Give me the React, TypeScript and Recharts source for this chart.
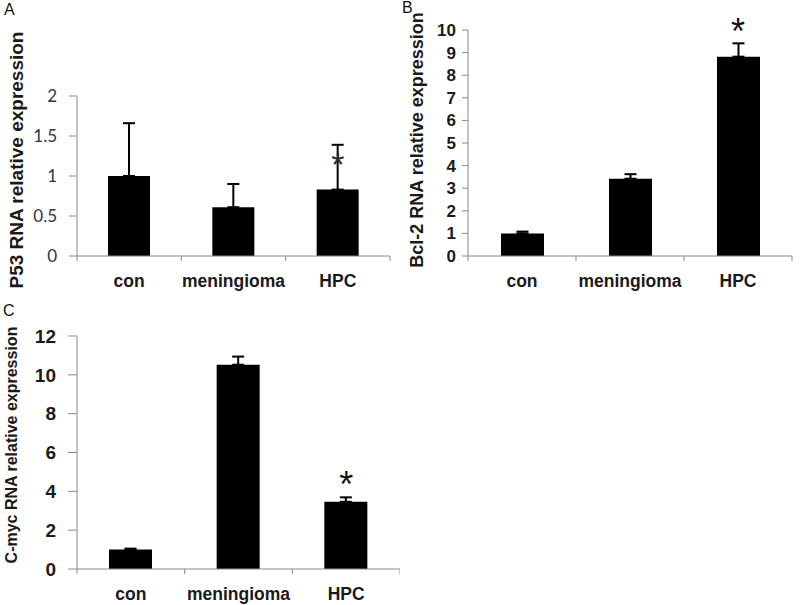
import React from 'react';
import { BarChart, Bar, XAxis, YAxis, ErrorBar, ReferenceDot } from 'recharts';

const categories = ['con', 'meningioma', 'HPC'];

// A: P53
const p53Values = [1.0, 0.61, 0.83];
const p53Errors = [0.66, 0.29, 0.56];
const p53Ticks = [0, 0.5, 1, 1.5, 2];
const p53Star = 1.24;

// B: Bcl-2
const bcl2Values = [1.0, 3.42, 8.82];
const bcl2Errors = [0.08, 0.2, 0.59];
const bcl2Ticks = [0, 1, 2, 3, 4, 5, 6, 7, 8, 9, 10];
const bcl2Star = 10.3;

// C: C-myc
const cmycValues = [1.0, 10.52, 3.46];
const cmycErrors = [0.05, 0.42, 0.23];
const cmycTicks = [0, 2, 4, 6, 8, 10, 12];
const cmycStar = 4.74;

const FONT = '"Liberation Sans", Arial, sans-serif';
const AXIS = '#8a8a8a';

const makeRows = (values: number[], errors: number[]) =>
  categories.map((name, i) => ({ name, value: values[i], err: [0, errors[i]] }));

const CategoryTick = (props: any) => {
  const { x, y, payload, index, half } = props;
  const h = payload && payload.offset ? payload.offset : half;
  return (
    <g>
      <line x1={x - h} y1={y} x2={x - h} y2={y + 5} stroke={AXIS} />
      {index === categories.length - 1 && <line x1={x + h} y1={y} x2={x + h} y2={y + 5} stroke={AXIS} />}
      <text x={x} y={y + 31} textAnchor="middle" fontFamily={FONT} fontWeight="bold" fontSize={17.5} fill="#1a1a1a">
        {payload.value}
      </text>
    </g>
  );
};

const Star = (props: any) => {
  const { cx, cy, size, color } = props;
  return (
    <text x={cx} y={cy + size * 0.57} textAnchor="middle" fontFamily={FONT} fontSize={size} fill={color}>
      *
    </text>
  );
};

const VTitle = ({ cx, cy, size, text }: { cx: number; cy: number; size: number; text: string }) => (
  <div
    style={{
      position: 'absolute',
      left: cx,
      top: cy,
      transform: 'translate(-50%, -50%) rotate(-90deg)',
      whiteSpace: 'nowrap',
      fontFamily: FONT,
      fontWeight: 'bold',
      fontSize: size,
      color: '#1a1a1a',
      lineHeight: 1,
    }}
  >
    {text}
  </div>
);

const PanelLetter = ({ x, y, text }: { x: number; y: number; text: string }) => (
  <div style={{ position: 'absolute', left: x, top: y, fontFamily: FONT, fontSize: 16, color: '#111', lineHeight: 1 }}>
    {text}
  </div>
);

export default function App() {
  const p53Rows = makeRows(p53Values, p53Errors);
  const bcl2Rows = makeRows(bcl2Values, bcl2Errors);
  const cmycRows = makeRows(cmycValues, cmycErrors);

  return (
    <div style={{ position: 'absolute', left: 0, top: 0, width: 800, height: 605, background: '#fff', overflow: 'hidden' }}>
      {/* A */}
      <div style={{ position: 'absolute', left: 0, top: 0 }}>
        <BarChart width={400} height={300} data={p53Rows} margin={{ top: 96, right: 10, left: 0, bottom: 0 }}>
          <XAxis
            dataKey="name"
            height={44}
            stroke={AXIS}
            tickSize={0}
            tickMargin={0}
            tickLine={false}
            tick={<CategoryTick half={52} />}
          />
          <YAxis
            width={77}
            domain={[0, 2]}
            ticks={p53Ticks}
            interval={0}
            stroke={AXIS}
            tickSize={8}
            tickMargin={12}
            tick={{ fontFamily: 'Lato, "Open Sans", sans-serif', fontSize: 17, fill: '#2e3548' }}
          />
          <Bar dataKey="value" fill="#000" barSize={42} isAnimationActive={false}>
            <ErrorBar dataKey="err" width={6} stroke="#000" strokeWidth={2} direction="y" />
          </Bar>
          <ReferenceDot x="HPC" y={p53Star} r={0} ifOverflow="visible" shape={<Star size={34} color="#2a2a2a" />} />
        </BarChart>
      </div>

      {/* B */}
      <div style={{ position: 'absolute', left: 400, top: 0 }}>
        <BarChart width={400} height={300} data={bcl2Rows} margin={{ top: 30, right: 8, left: 0, bottom: 0 }}>
          <XAxis
            dataKey="name"
            height={44}
            stroke={AXIS}
            tickSize={0}
            tickMargin={0}
            tickLine={false}
            tick={<CategoryTick half={54} />}
          />
          <YAxis
            width={68}
            domain={[0, 10]}
            ticks={bcl2Ticks}
            interval={0}
            stroke={AXIS}
            tickSize={6}
            tickMargin={6}
            tick={{ fontFamily: FONT, fontWeight: 'bold', fontSize: 17, fill: '#1a1a1a' }}
          />
          <Bar dataKey="value" fill="#000" barSize={43} isAnimationActive={false}>
            <ErrorBar dataKey="err" width={6} stroke="#000" strokeWidth={2} direction="y" />
          </Bar>
          <ReferenceDot x="HPC" y={bcl2Star} r={0} ifOverflow="visible" shape={<Star size={36} color="#111" />} />
        </BarChart>
      </div>

      {/* C */}
      <div style={{ position: 'absolute', left: 0, top: 300 }}>
        <BarChart width={400} height={305} data={cmycRows} margin={{ top: 36, right: 0, left: 0, bottom: 0 }}>
          <XAxis
            dataKey="name"
            height={36}
            stroke={AXIS}
            tickSize={0}
            tickMargin={0}
            tickLine={false}
            tick={<CategoryTick half={54} />}
          />
          <YAxis
            width={77}
            domain={[0, 12]}
            ticks={cmycTicks}
            interval={0}
            stroke={AXIS}
            tickSize={9}
            tickMargin={12}
            tick={{ fontFamily: FONT, fontWeight: 'bold', fontSize: 19, fill: '#1a1a1a' }}
          />
          <Bar dataKey="value" fill="#000" barSize={43} isAnimationActive={false}>
            <ErrorBar dataKey="err" width={6} stroke="#000" strokeWidth={2} direction="y" />
          </Bar>
          <ReferenceDot x="HPC" y={cmycStar} r={0} ifOverflow="visible" shape={<Star size={36} color="#111" />} />
        </BarChart>
      </div>

      <VTitle cx={16} cy={160} size={19} text="P53 RNA relative expression" />
      <VTitle cx={417} cy={140} size={18} text="Bcl-2 RNA relative expression" />
      <VTitle cx={12} cy={445} size={16} text="C-myc RNA relative expression" />

      <PanelLetter x={4} y={2} text="A" />
      <PanelLetter x={402} y={0} text="B" />
      <PanelLetter x={3} y={303} text="C" />
    </div>
  );
}
